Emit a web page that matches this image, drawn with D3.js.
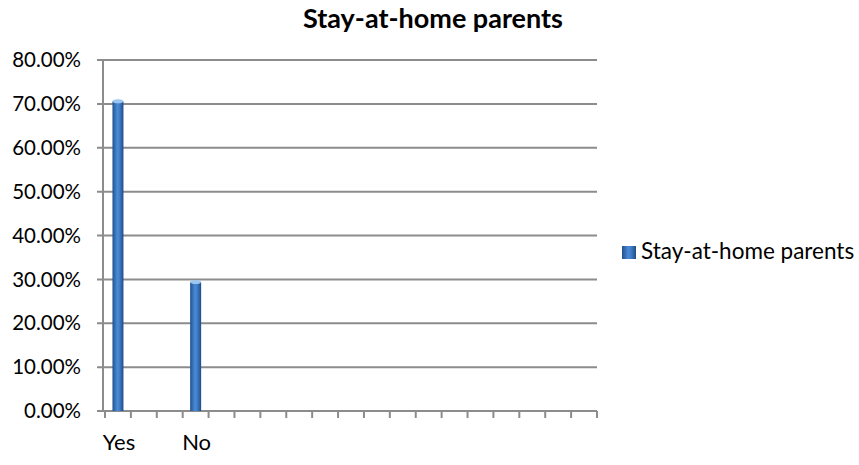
<!DOCTYPE html>
<html>
<head>
<meta charset="utf-8">
<script src="https://cdn.jsdelivr.net/npm/d3@7"></script>
<style>
  body { margin: 0; background: #fff; }
  text { font-family: Lato, "Open Sans", sans-serif; fill: #000; }
</style>
</head>
<body>
<svg id="chart" width="859" height="465"></svg>
<script>
// Chart data
const title = "Stay-at-home parents";
const seriesName = "Stay-at-home parents";
// 19 category slots on the axis, only two of them filled
const categories = ["Yes", "c2", "c3", "No", "c5", "c6", "c7", "c8", "c9", "c10",
                    "c11", "c12", "c13", "c14", "c15", "c16", "c17", "c18", "c19"];
const categoryLabels = { "Yes": "Yes", "No": "No" };
const values = [0.706, null, null, 0.294];
const yTicks = [0, 0.1, 0.2, 0.3, 0.4, 0.5, 0.6, 0.7, 0.8];

const svg = d3.select("#chart");

const margin = { left: 103, right: 262, top: 60, bottom: 54 };
const width = 859 - margin.left - margin.right;
const height = 465 - margin.top - margin.bottom;

// Gradient for the cylinder-look bars
const defs = svg.append("defs");
const grad = defs.append("linearGradient").attr("id", "barGrad")
    .attr("x1", "0%").attr("x2", "100%").attr("y1", "0%").attr("y2", "0%");
grad.append("stop").attr("offset", "0%").attr("stop-color", "#22528e");
grad.append("stop").attr("offset", "45%").attr("stop-color", "#4a8bd6");
grad.append("stop").attr("offset", "65%").attr("stop-color", "#3f7cc6");
grad.append("stop").attr("offset", "100%").attr("stop-color", "#1f4c85");

const g = svg.append("g").attr("transform", `translate(${margin.left},${margin.top})`);

const x = d3.scaleBand().domain(categories).range([2, width]).padding(0);
const y = d3.scaleLinear().domain([0, 0.8]).range([height, 0]);

// Gridlines
g.selectAll(".grid").data(yTicks).enter().append("line")
    .attr("x1", -6).attr("x2", width)
    .attr("y1", d => y(d)).attr("y2", d => y(d))
    .attr("stroke", "#8c8c8c").attr("stroke-width", 2);

// Y axis line
g.append("line").attr("x1", 0).attr("x2", 0).attr("y1", 0).attr("y2", height)
    .attr("stroke", "#8c8c8c").attr("stroke-width", 2);

// Y tick labels
g.selectAll(".ylab").data(yTicks).enter().append("text")
    .attr("x", -22).attr("y", d => y(d)).attr("dy", "0.35em")
    .attr("text-anchor", "end").style("font-size", "20.5px")
    .text(d => d3.format(".2%")(d));

// X axis ticks
const tickXs = categories.map(c => x(c)).concat([x.range()[1]]);
g.selectAll(".xtick").data(tickXs).enter().append("line")
    .attr("x1", d => d).attr("x2", d => d)
    .attr("y1", height).attr("y2", height + 7)
    .attr("stroke", "#8c8c8c").attr("stroke-width", 2);

// X labels
g.selectAll(".xlab").data(categories.filter(c => categoryLabels[c])).enter().append("text")
    .attr("x", d => x(d) + x.bandwidth() / 2 + 1)
    .attr("y", height + 39)
    .attr("text-anchor", "middle").style("font-size", "22px")
    .text(d => categoryLabels[d]);

// Bars
const barW = 11;
const bars = g.selectAll(".bar").data(categories.map((c, i) => ({ c, v: values[i] })).filter(d => d.v != null))
    .enter().append("g");
bars.append("rect")
    .attr("x", d => x(d.c) + x.bandwidth() / 2 - barW / 2)
    .attr("y", d => y(d.v))
    .attr("width", barW)
    .attr("height", d => height - y(d.v))
    .attr("fill", "url(#barGrad)");
bars.append("ellipse")
    .attr("cx", d => x(d.c) + x.bandwidth() / 2)
    .attr("cy", d => y(d.v))
    .attr("rx", barW / 2).attr("ry", 2)
    .attr("fill", "#9cc6f0");

// Title
svg.append("text").attr("x", 433).attr("y", 28)
    .attr("text-anchor", "middle").style("font-size", "27px").style("font-weight", "bold")
    .text(title);

// Legend
const lg = svg.append("g").attr("transform", "translate(622,246)");
lg.append("rect").attr("x", 0).attr("y", 0).attr("width", 14).attr("height", 13)
    .attr("fill", "url(#barGrad)");
lg.append("text").attr("x", 19).attr("y", 13)
    .style("font-size", "22.5px").text(seriesName);
</script>
</body>
</html>
